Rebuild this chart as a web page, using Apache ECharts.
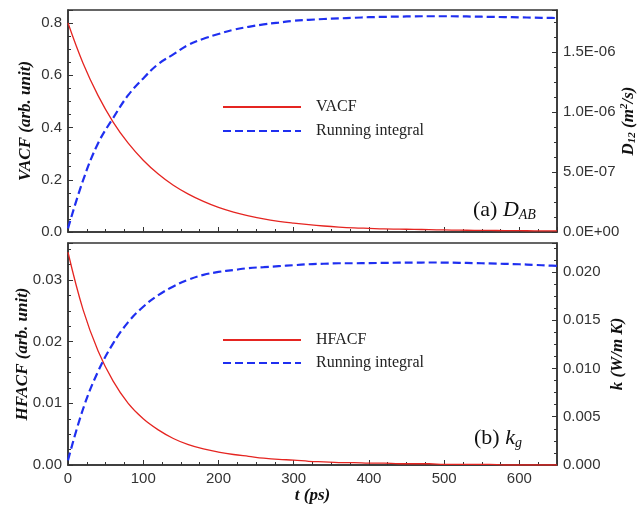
<!DOCTYPE html>
<html lang="en">
<head>
<meta charset="UTF-8">
<title>VACF / HFACF</title>
<script src="https://cdn.jsdelivr.net/npm/echarts@6/dist/echarts.min.js"></script>
<style>
  html, body { margin: 0; padding: 0; background: #fff; }
  #chart { width: 640px; height: 508px; }
</style>
</head>
<body>
<div id="chart"></div>
<script type="text/javascript">
  // time axis (ps)
  var timePs = [0, 20, 40, 60, 80, 100, 120, 140, 160, 180, 200, 220, 240, 260, 280, 300, 320,
                340, 360, 380, 400, 420, 440, 460, 480, 500, 520, 540, 560, 580, 600, 620, 640, 650];
  // (a) VACF, arb. unit
  var vacf = [0.800, 0.646, 0.522, 0.421, 0.340, 0.275, 0.222, 0.179, 0.145, 0.117, 0.094, 0.076,
              0.062, 0.050, 0.041, 0.034, 0.028, 0.023, 0.019, 0.016, 0.014, 0.012, 0.011, 0.010,
              0.009, 0.008, 0.007, 0.0065, 0.006, 0.0055, 0.005, 0.0045, 0.004, 0.004];
  // (a) running integral D12, in units of 1E-06 m2/s
  var runD = [0.03, 0.43, 0.74, 0.95, 1.14, 1.28, 1.40, 1.48, 1.56, 1.61, 1.65, 1.685, 1.71, 1.73,
              1.745, 1.76, 1.768, 1.775, 1.78, 1.785, 1.79, 1.793, 1.795, 1.797, 1.798, 1.798,
              1.797, 1.795, 1.793, 1.791, 1.789, 1.786, 1.784, 1.783];
  // (b) HFACF, arb. unit
  var hfacf = [0.0345, 0.0252, 0.0185, 0.0136, 0.0100, 0.0075, 0.0057, 0.0043, 0.0033, 0.0026,
               0.0021, 0.0017, 0.0014, 0.0011, 0.0009, 0.0008, 0.0006, 0.0005, 0.0004, 0.0004,
               0.0003, 0.0003, 0.0002, 0.0002, 0.0002, 0.0001, 0.0001, 0.0001, 0.0001, 0.0000,
               0.0000, 0.0000, 0.0000, 0.0000];
  // (b) running integral k, W/m K
  var runK = [0.0005, 0.0058, 0.0097, 0.0126, 0.0148, 0.0164, 0.0176, 0.0185, 0.0192, 0.0197,
              0.0200, 0.0202, 0.0204, 0.0205, 0.0206, 0.0207, 0.0208, 0.02085, 0.0209, 0.0209,
              0.02092, 0.02094, 0.02096, 0.02097, 0.02098, 0.02097, 0.02095, 0.02092, 0.02088,
              0.02084, 0.0208, 0.02073, 0.02066, 0.02063];

  function pairs(ys) {
    return timePs.map(function (t, i) { return [t, ys[i]]; });
  }

  // 1.5 -> "1.5E-06"
  function sciLabel(v) {
    var val = v * 1e-6;
    if (Math.abs(v) < 1e-9) return '0.0E+00';
    var e = Math.floor(Math.log10(val) + 1e-9);
    var m = val / Math.pow(10, e);
    var s = e < 0 ? '-' : '+';
    var ae = Math.abs(e);
    return m.toFixed(1) + 'E' + s + (ae < 10 ? '0' : '') + ae;
  }

  var ink = '#333';
  var red = '#e52521';
  var blue = '#1f2ff0';
  var tickFont = { fontFamily: 'Liberation Sans', fontSize: 15, color: ink };
  var nameFont = { fontFamily: 'Liberation Serif', fontSize: 17, fontWeight: 'bold', fontStyle: 'italic', color: '#111' };

  function yAx(gridIndex, pos, max, interval, fmt, name, nameGap, rich) {
    return {
      type: 'value', gridIndex: gridIndex, position: pos,
      min: 0, max: max, interval: interval,
      name: name, nameLocation: 'middle', nameGap: nameGap, nameRotate: 90, nameMoveOverlap: false,
      nameTextStyle: Object.assign({ rich: rich || {} }, nameFont),
      axisLine: { show: true, lineStyle: { color: ink, width: 1.5 } },
      axisTick: { show: true, inside: true, length: 5, lineStyle: { color: ink } },
      minorTick: { show: true, splitNumber: 4, length: 3, lineStyle: { color: ink } },
      splitLine: { show: false },
      axisLabel: Object.assign({ margin: 6, showMaxLabel: false, formatter: fmt }, tickFont)
    };
  }

  function xAx(gridIndex, showLabels) {
    return {
      type: 'value', gridIndex: gridIndex,
      min: 0, max: 650, interval: 100,
      name: showLabels ? 't (ps)' : '', nameLocation: 'middle', nameGap: 22, nameMoveOverlap: false,
      nameTextStyle: nameFont,
      axisLine: { show: true, onZero: false, lineStyle: { color: ink, width: 1.5 } },
      axisTick: { show: true, inside: true, length: 5, lineStyle: { color: ink } },
      minorTick: { show: true, splitNumber: 4, length: 3, lineStyle: { color: ink } },
      splitLine: { show: false },
      axisLabel: Object.assign({ show: showLabels, margin: 6, showMaxLabel: false }, tickFont)
    };
  }

  var subRich = {
    i: { fontFamily: 'Liberation Serif', fontSize: 17, fontWeight: 'bold', fontStyle: 'italic', color: '#111' },
    sub: { fontFamily: 'Liberation Serif', fontSize: 11, fontStyle: 'italic', color: '#111', padding: [8, 0, 0, 0] },
    sup: { fontFamily: 'Liberation Serif', fontSize: 11, fontWeight: 'bold', fontStyle: 'italic', color: '#111', padding: [0, 0, 8, 0] }
  };

  var legendText = { fontFamily: 'Liberation Serif', fontSize: 16, color: '#222', padding: [0, 0, 0, 10] };

  var chart = echarts.init(document.getElementById('chart'), null, { renderer: 'canvas' });
  chart.setOption({
    animation: false,
    backgroundColor: '#fff',
    grid: [
      { left: 68, right: 83, top: 10, height: 222, show: true, borderColor: ink, borderWidth: 1.5,
        containLabel: false, outerBoundsMode: 'none' },
      { left: 68, right: 83, top: 243, height: 222, show: true, borderColor: ink, borderWidth: 1.5,
        containLabel: false, outerBoundsMode: 'none' }
    ],
    xAxis: [xAx(0, false), xAx(1, true)],
    yAxis: [
      yAx(0, 'left', 0.85, 0.2, function (v) { return v.toFixed(1); }, 'VACF (arb. unit)', 34),
      yAx(0, 'right', 1.85, 0.5, sciLabel, '{i|D}{sub|12}{i| (m}{sup|2}{i|/s)}', 62, subRich),
      yAx(1, 'left', 0.036, 0.01, function (v) { return v.toFixed(2); }, 'HFACF (arb. unit)', 37),
      yAx(1, 'right', 0.023, 0.005, function (v) { return v.toFixed(3); }, 'k (W/m K)', 52)
    ],
    legend: [
      { orient: 'vertical', left: 217, top: 94, itemWidth: 78, itemHeight: 14, itemGap: 8,
        itemStyle: { opacity: 0, borderWidth: 0 },
        data: ['VACF', 'Running integral (a)'], textStyle: legendText,
        formatter: function (n) { return n.replace(' (a)', ''); } },
      { orient: 'vertical', left: 217, top: 327, itemWidth: 78, itemHeight: 14, itemGap: 7,
        itemStyle: { opacity: 0, borderWidth: 0 },
        data: ['HFACF', 'Running integral (b)'], textStyle: legendText,
        formatter: function (n) { return n.replace(' (b)', ''); } }
    ],
    graphic: [
      { type: 'text', left: 473, top: 199, style: {
          text: '{n|(a) }{i|D}{s|AB}',
          rich: {
            n: { fontFamily: 'Liberation Serif', fontSize: 22, fill: '#111' },
            i: { fontFamily: 'Liberation Serif', fontSize: 22, fontStyle: 'italic', fill: '#111' },
            s: { fontFamily: 'Liberation Serif', fontSize: 14, fontStyle: 'italic', fill: '#111', padding: [10, 0, 0, 0] }
          } } },
      { type: 'text', left: 474, top: 427, style: {
          text: '{n|(b) }{i|k}{s|g}',
          rich: {
            n: { fontFamily: 'Liberation Serif', fontSize: 22, fill: '#111' },
            i: { fontFamily: 'Liberation Serif', fontSize: 22, fontStyle: 'italic', fill: '#111' },
            s: { fontFamily: 'Liberation Serif', fontSize: 14, fontStyle: 'italic', fill: '#111', padding: [10, 0, 0, 0] }
          } } }
    ],
    series: [
      { name: 'VACF', type: 'line', xAxisIndex: 0, yAxisIndex: 0, data: pairs(vacf),
        smooth: 0.4, symbol: 'none', lineStyle: { color: red, width: 1.3 }, itemStyle: { color: red } },
      { name: 'Running integral (a)', type: 'line', xAxisIndex: 0, yAxisIndex: 1, data: pairs(runD),
        smooth: 0.4, symbol: 'none', lineStyle: { color: blue, width: 2.2, type: [8, 4] }, itemStyle: { color: blue } },
      { name: 'HFACF', type: 'line', xAxisIndex: 1, yAxisIndex: 2, data: pairs(hfacf),
        smooth: 0.4, symbol: 'none', lineStyle: { color: red, width: 1.3 }, itemStyle: { color: red } },
      { name: 'Running integral (b)', type: 'line', xAxisIndex: 1, yAxisIndex: 3, data: pairs(runK),
        smooth: 0.4, symbol: 'none', lineStyle: { color: blue, width: 2.2, type: [8, 4] }, itemStyle: { color: blue } }
    ]
  });
</script>
</body>
</html>
